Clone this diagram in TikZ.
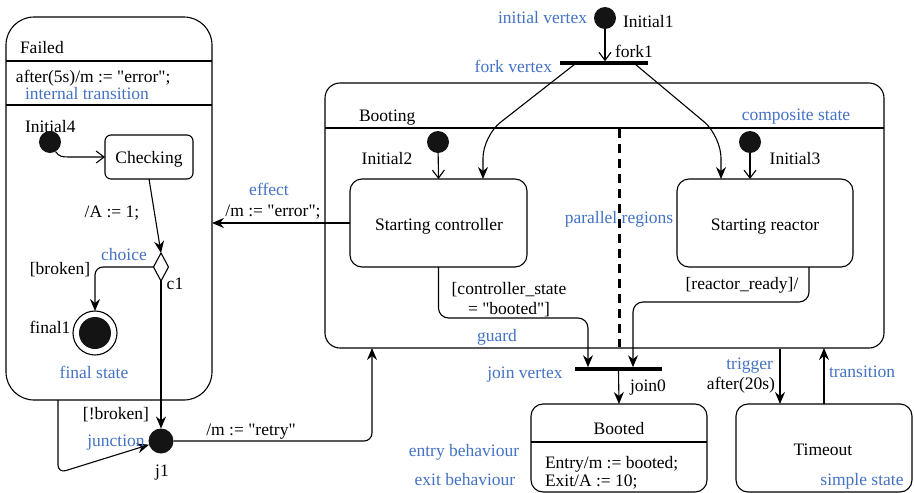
\documentclass[tikz,border=0pt]{standalone}
\usepackage{fontspec}
\setmainfont{Liberation Serif}[Ligatures=TeXOff]
\usetikzlibrary{arrows.meta,shapes.geometric}
\definecolor{umlblue}{RGB}{68,114,196}
\begin{document}
\begin{tikzpicture}[x=1pt,y=-1pt,
  font=\fontsize{17.5}{19}\selectfont,
  line width=1.1pt,
  every node/.style={inner sep=0pt, outer sep=0pt},
  txt/.style={text height=6pt, text depth=4.5pt, yshift=-5pt},
  note/.style={txt, text=umlblue},
  arr/.style={-{Stealth[length=12pt,width=10pt,inset=4pt]}},
  openarr/.style={-{Straight Barb[length=8pt,width=12pt]}},
  statebox/.style={draw, rounded corners=#1},
  initdot/.style={circle, fill=black!92, minimum size=22pt},
  bar/.style={fill=black, minimum height=3.6pt}
]
\useasboundingbox (0,0) rectangle (914,493);

% ---------- Failed ----------
\node[statebox=28pt, minimum width=206pt, minimum height=383pt] (failed) at (109,208.5) {};
\draw (6,61) -- (212,61);
\draw (6,105) -- (212,105);
\node[txt, anchor=west] (failedname) at (20,48) {Failed};
\node[txt, anchor=west] (failedint) at (16,77) {after(5s)/m := "error";};
\node[note, anchor=west] (notint) at (25,93.5) {internal transition};
\node[txt, anchor=west] (i4lbl) at (25,127) {Initial4};
\node[initdot] (i4) at (50,142) {};
\node[statebox=6pt, minimum width=88pt, minimum height=44pt] (checking) at (149,157) {};
\node[txt] (checkingname) at (149,158) {Checking};
\node[diamond, draw, fill=white, minimum width=15pt, minimum height=28pt] (c1) at (161,267) {};
\node[circle, draw, minimum size=44pt] (final1) at (95,333) {};
\node[circle, fill=black!92, minimum size=32pt] (final1in) at (95,333) {};
\node[circle, fill=black!92, minimum size=25pt] (j1) at (161,441) {};

\draw[openarr] (i4.-60) .. controls (60,157) .. (74,157) -- (checking.west);
\draw[arr] (checking.south) -- (c1.north);
\draw[arr, rounded corners=8pt] (c1.west) -| (final1.north);
\draw[arr] (c1.south) -- (j1.north);
\coordinate (failedexit) at (58,400);
\draw[arr, rounded corners=8pt] (failedexit) -- (58,473) -- (j1);

\node[txt] (a1lbl) at (112,212) {/A := 1;};
\node[note] (choicelbl) at (124,255) {choice};
\node[txt] (brokenlbl) at (60,269) {[broken]};
\node[txt] (c1lbl) at (175,284) {c1};
\node[txt] (final1lbl) at (50,328) {final1};
\node[note] (finallbl) at (94,373) {final state};
\node[txt] (nbrokenlbl) at (116,414) {[!broken]};
\node[note] (junctionlbl) at (116,441) {junction};
\node[txt] (j1lbl) at (162,471) {j1};

% ---------- Booting ----------
\node[statebox=15pt, minimum width=559pt, minimum height=265pt] (booting) at (604.5,215.5) {};
\draw (325,128) -- (884,128);
\node[txt, anchor=west] (bootname) at (359,116) {Booting};
\node[note] (complbl) at (796,115) {composite state};
\node[note] (parlbl) at (619,218) {parallel regions};
\draw[line width=3pt, dash pattern=on 9pt off 6pt] (619,129) -- (619,347);

\node[statebox=12pt, minimum width=177pt, minimum height=88pt] (ctrl) at (438.5,223) {};
\node[statebox=12pt, minimum width=176pt, minimum height=88pt] (reactor) at (765,223) {};
\node[txt] (ctrlname) at (439,225) {Starting controller};
\node[txt] (reactorname) at (765,225) {Starting reactor};
\node[initdot] (i2) at (438,142) {};
\node[initdot] (i3) at (750,142) {};
\node[txt] (i2lbl) at (387,159) {Initial2};
\node[txt] (i3lbl) at (795,159) {Initial3};
\draw[openarr] (i2) -- (ctrl.north);
\draw[openarr] (i3) -- (i3 |- reactor.north);

% ---------- Initial1 & fork ----------
\node[initdot] (i1) at (605,18) {};
\node[bar, minimum width=88pt] (fork1) at (604,63) {};
\node[note, anchor=east] (initlbl) at (587,18) {initial vertex};
\node[txt, anchor=west] (i1lbl) at (623,22) {Initial1};
\node[txt, anchor=west] (fork1lbl) at (615,52) {fork1};
\node[note, anchor=east] (forklbl) at (552,67) {fork vertex};
\draw[openarr] (i1) -- (i1 |- fork1.north);
\coordinate (fk1) at (575,64);
\coordinate (fk2) at (635,64);
\coordinate (ctrlin) at (483,179);
\coordinate (reacin) at (721,179);
\draw[arr, rounded corners=22pt] (fk1) -- (483,136) -- (ctrlin);
\draw[arr, rounded corners=22pt] (fk2) -- (721,136) -- (reacin);

% ---------- effect ----------
\draw[arr] (ctrl.west) -- (ctrl.west -| failed.east);
\node[note] (effectlbl) at (269,190) {effect};
\node[txt] (errlbl) at (273,211) {/m := "error";};

% ---------- join ----------
\node[bar, minimum width=87pt] (join0) at (618.5,369) {};
\coordinate (joinA) at (588,367.2);
\coordinate (joinB) at (633,367.2);
\coordinate (reacout) at (809,267);
\draw[arr, rounded corners=10pt] (ctrl.south) -- ++(0,51) -| (joinA);
\draw[arr, rounded corners=10pt] (reacout) -- (809,302) -| (joinB);
\node[txt] (guard1) at (509,289) {[controller\_state};
\node[txt] (guard2) at (509,309) {= "booted"]};
\node[note] (guardlbl) at (497,336) {guard};
\node[txt] (reacguard) at (742,284) {[reactor\_ready]/};
\node[note] (joinlbl) at (525,373) {join vertex};
\node[txt, anchor=west] (join0lbl) at (630,386) {join0};

% ---------- retry ----------
\coordinate (bootin) at (372,348);
\draw[arr, rounded corners=8pt] (j1.east) -| (bootin);
\node[txt] (retrylbl) at (251,430) {/m := "retry"};

% ---------- Booted ----------
\node[statebox=12pt, minimum width=176pt, minimum height=88pt] (booted) at (619,448) {};
\draw (531,442) -- (707,442);
\node[txt] (bootedname) at (619,429) {Booted};
\node[txt, anchor=west] (entrylbl) at (545,463) {Entry/m := booted;};
\node[txt, anchor=west] (exitlbl) at (545,481) {Exit/A := 10;};
\node[note] (entrynote) at (464,451) {entry behaviour};
\node[note] (exitnote) at (465,480) {exit behaviour};
\draw[arr] (join0.south) -- (booted.north);

% ---------- Timeout ----------
\node[statebox=12pt, minimum width=176pt, minimum height=88pt] (timeout) at (824,448) {};
\node[txt] (timeoutname) at (823,450) {Timeout};
\node[note] (simplelbl) at (862,480) {simple state};
\coordinate (trigA) at (780,349);
\draw[arr] (trigA) -- (trigA |- timeout.north);
\draw[arr] (timeout.north) -- (timeout.north |- booting.south);
\node[note, anchor=east] (triglbl) at (773,364) {trigger};
\node[txt, anchor=east] (afterlbl) at (775,384) {after(20s)};
\node[note, anchor=west] (translbl) at (829,372) {transition};
\end{tikzpicture}
\end{document}
